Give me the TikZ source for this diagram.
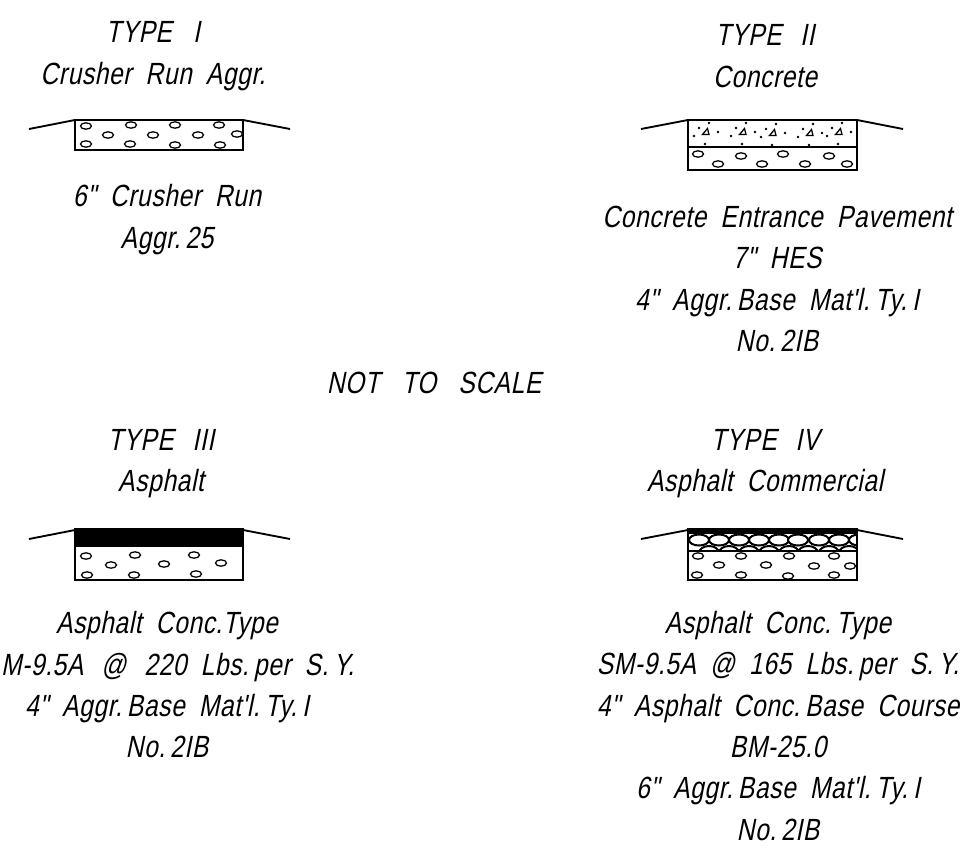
\documentclass[tikz,border=0pt]{standalone}
\usepackage{fontspec}
\newfontfamily\cadfont[FakeSlant=0.2,FakeStretch=0.8,LetterSpace=2,WordSpace=1.9]{Liberation Sans}
\usepackage{tikz}

\tikzset{
    legend/.style={align=center, inner sep=0pt, font=\cadfont\fontsize{23}{31}\selectfont},
    curb/.style={line width=1.4pt},
    slab/.style={line width=1.5pt},
    stone/.style={line width=.95pt}
}
% x y of one grid of stones in a base layer
\newcommand{\stones}[1]{
    \foreach \sx/\sy in {#1}{
        \draw[stone] (\sx,\sy) ellipse (5.5 and 3.2);
    }
}

\begin{document}
\begin{tikzpicture}[x=.75pt, y=-.75pt]
    \useasboundingbox (0,0) rectangle (963,849);

    % titles and notes
    \node[legend] (titleone) at (153,56) {TYPE\hspace{16pt}I\\Crusher Run Aggr.};
    \node[legend] (noteone) at (167,219.5) {6" Crusher Run\\Aggr.\,25};
    \node[legend] (titletwo) at (765,56) {TYPE\hspace{14pt}II\\Concrete};
    \node[legend] (notetwo) at (777,279) {Concrete Entrance Pavement\\7" HES\\4" Aggr.\,Base Mat'l.\,Ty.\,I\\No.\,2IB};
    \node[legend] (noscale) at (434,383) {NOT\ \hspace{6pt}TO\ \hspace{6pt}SCALE};
    \node[legend] (titlethree) at (161,463.5) {TYPE\hspace{14pt}III\\Asphalt};
    \node[legend] (notethree) at (167,685) {Asphalt Conc.Type\\\hspace*{16pt}M-9.5A\hspace{3pt} @\hspace{3pt} 220 Lbs.\,per S.\,Y.\\4" Aggr.\,Base Mat'l.\,Ty.\,I\\No.\,2IB};
    \node[legend] (titlefour) at (765,463.5) {TYPE\hspace{14pt}IV\\Asphalt Commercial};
    \node[legend] (notefour) at (778,726) {Asphalt Conc.\,Type\\SM-9.5A @ 165 Lbs.\,per S.\,Y.\\4" Asphalt Conc.\,Base Course\\BM-25.0\\6" Aggr.\,Base Mat'l.\,Ty.\,I\\No.\,2IB};

    % type I
    \draw[curb] (29,129) -- (75,120) (243,120) -- (290,129);
    \draw[slab] (75,120) rectangle (243,150);
    \stones{86/126,131/125,175/125,219/125,108/135,153/135,198/135,237/134,86/144,130/144,175/145,220/145}

    % type II
    \draw[curb] (641,129) -- (688,120) (857,120) -- (903,129);
    \draw[slab] (688,120) rectangle (857,170);
    \draw[slab] (688,147) -- (857,147);
    \foreach \px/\py in {706/132, 743/132, 773/133, 810/133, 839/132}{
        \draw[stone] (\px-3.5,\py+2.5) -- (\px+3,\py+2.5) -- (\px+1.5,\py-3.5) -- cycle;
        \foreach \dx/\dy in {3/-9, -7/-4, -12/4, 12/0, -1/12}{
            \fill (\px+\dx,\py+\dy) circle (1.3);
        }
    }
    \stones{698/154,741/156,783/154,829/156,718/164,762/164,805/164,847/164}

    % type III
    \draw[curb] (29,539) -- (75,530) (243,530) -- (290,539);
    \draw[slab] (75,529) rectangle (243,580);
    \fill (75,529) rectangle (243,547);
    \stones{86/556,135/555,194/555,111/565,164/564,221/563,87/575,134/575,196/574}

    % type IV
    \draw[curb] (641,539) -- (688,530) (857,530) -- (903,539);
    \begin{scope}
        \clip (688,534) rectangle (857,551);
        \foreach \px in {709,729,749,769,789,808,829,849}{
            \draw[slab] (\px,553) ellipse (10 and 7);
        }
        \foreach \px in {699,719,739,759,779,798,819,839,859}{
            \filldraw[slab, fill=white] (\px,540) ellipse (10 and 5.5);
        }
    \end{scope}
    \draw[slab] (688,529) rectangle (857,580);
    \fill (688,529) rectangle (857,534);
    \draw[slab] (688,551) -- (857,551);
    \stones{698/556,741/556,789/556,834/556,719/565,766/565,814/566,850/566,697/575,741/575,788/576,834/575}
\end{tikzpicture}
\end{document}
